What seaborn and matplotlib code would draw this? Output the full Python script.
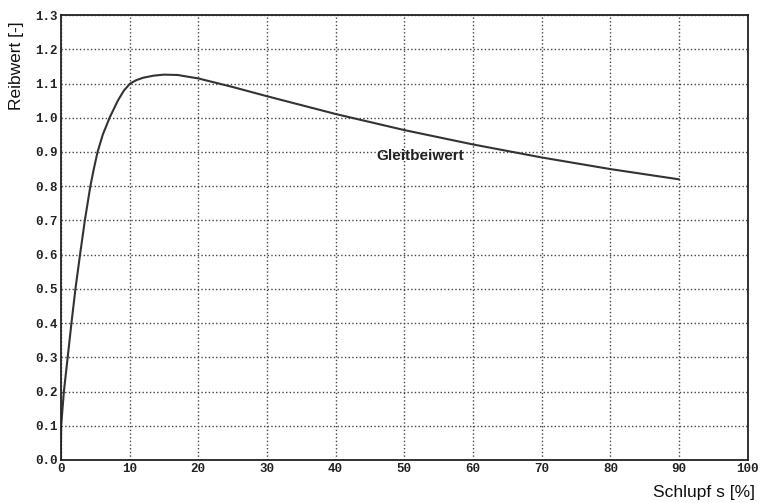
import pandas as pd
import matplotlib.pyplot as plt
import seaborn as sns

# Reibwert over Schlupf
schlupf = [0, 0.05, 0.45, 1.0, 1.55, 2.13, 2.8, 3.5, 4.3, 4.8, 5.35, 6.1, 7.1, 8.3,
           9.2, 10.1, 11.0, 12.0, 13.5, 15.0, 17.0, 20, 25, 30, 40, 50, 60, 70, 80, 90]
reibwert = [0.0, 0.1, 0.2, 0.3, 0.4, 0.5, 0.6, 0.7, 0.8, 0.85, 0.9, 0.95, 1.0, 1.05,
            1.08, 1.1, 1.11, 1.117, 1.123, 1.126, 1.125, 1.115, 1.09, 1.063, 1.011,
            0.964, 0.922, 0.884, 0.85, 0.82]
x_ticks = list(range(0, 101, 10))
y_ticks = [i / 10 for i in range(0, 14)]

df = pd.DataFrame({'Schlupf': schlupf, 'Reibwert': reibwert})

sns.set_style('white')
plt.rcParams['font.family'] = ['Liberation Sans', 'DejaVu Sans']

fig = plt.figure(figsize=(7.6, 5.03), dpi=100)
ax = fig.add_axes([0.080, 0.0855, 0.904, 0.8845])

sns.lineplot(x='Schlupf', y='Reibwert', data=df, ax=ax, color='#333333',
             linewidth=1.5, sort=False)

ax.set_xlim(0, 100)
ax.set_ylim(0, 1.3)
ax.set_xticks(x_ticks)
ax.set_yticks(y_ticks)
ax.set_xticklabels([str(t) for t in x_ticks], family='Liberation Mono',
                   fontweight='bold', fontsize=9, color='#222222')
ax.set_yticklabels([f'{t:.1f}' for t in y_ticks], family='Liberation Mono',
                   fontweight='bold', fontsize=9, color='#222222')
ax.tick_params(length=0, pad=2)
ax.grid(True, linestyle=':', color='#444444', linewidth=1.0)

for s in ax.spines.values():
    s.set_color('#222222')
    s.set_linewidth(1.3)

ax.set_xlabel('')
ax.set_ylabel('')
fig.text(0.994, 0.006, 'Schlupf s [%]', ha='right', va='bottom', fontsize=12.5,
         color='#111111')
fig.text(0.012, 0.958, 'Reibwert [-]', ha='left', va='top', rotation=90,
         fontsize=12.5, color='#111111')

ax.text(45.9, 0.888, 'Gleitbeiwert', ha='left', va='center', fontsize=11,
        fontweight='bold', color='#222222')

plt.savefig('out.png', dpi=100)
